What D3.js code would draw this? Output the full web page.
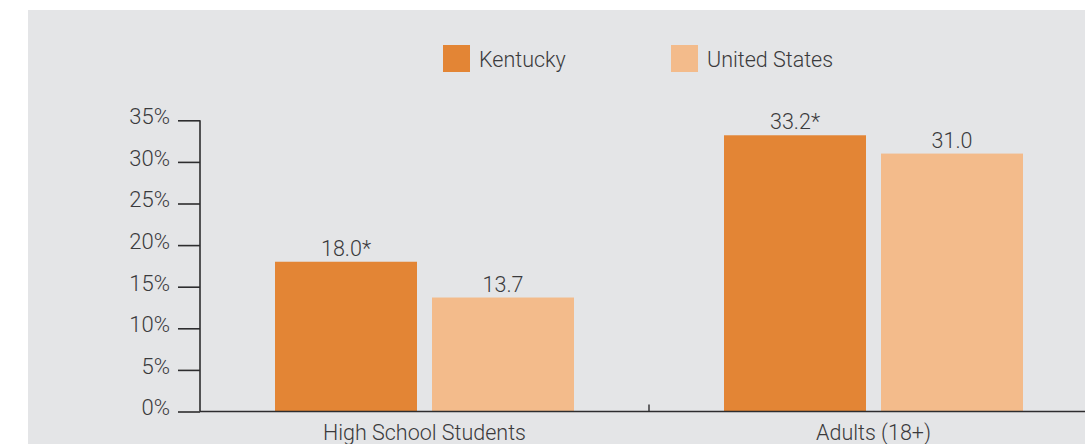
<!DOCTYPE html>
<html>
<head>
<meta charset="utf-8">
<script src="https://cdn.jsdelivr.net/npm/d3@7"></script>
<style>
  html, body { margin: 0; padding: 0; background: #ffffff; }
  svg { display: block; }
  text { font-family: "Roboto", "Liberation Sans", sans-serif; font-weight: 300; fill: #3a3a3c; }
</style>
</head>
<body>
<svg id="chart" width="1085" height="444"></svg>
<script>
// Tobacco use prevalence, Kentucky vs. United States
const categories = ["High School Students", "Adults (18+)"];
const seriesNames = ["Kentucky", "United States"];
const kentuckyValues = [18.0, 33.2];
const usValues = [13.7, 31.0];
const valueLabels = [["18.0*", "13.7"], ["33.2*", "31.0"]];
const yTicks = [0, 5, 10, 15, 20, 25, 30, 35];
const colors = ["#e38535", "#f3bb8b"];

const rows = categories.map((c, i) => ({
  category: c,
  values: [kentuckyValues[i], usValues[i]],
  labels: valueLabels[i]
}));

const FONT = 21.5;
const svg = d3.select("#chart");

// panel background
svg.append("rect")
  .attr("x", 28).attr("y", 10)
  .attr("width", 1085 - 28).attr("height", 444 - 10)
  .attr("fill", "#e4e5e7");

const plot = { left: 200, right: 1098, top: 120.3, bottom: 411.5 };

const y = d3.scaleLinear().domain([0, 35]).range([plot.bottom, plot.top]);
const x0 = d3.scaleBand().domain(categories).range([plot.left, plot.right]).padding(0);
const groupWidth = 299;
const x1 = d3.scaleBand().domain(seriesNames)
  .range([(x0.bandwidth() - groupWidth) / 2, (x0.bandwidth() + groupWidth) / 2])
  .paddingInner(15 / 157).paddingOuter(0);

// y axis
const yAxis = svg.append("g")
  .attr("transform", `translate(${plot.left},0)`)
  .call(d3.axisLeft(y).tickValues(yTicks).tickSize(22).tickPadding(8)
    .tickFormat(d => d + "%"));
yAxis.select(".domain").attr("stroke", "#2d2d2f").attr("stroke-width", 1.6)
  .attr("d", `M0,${plot.top}V${plot.bottom}`);
yAxis.selectAll(".tick line").attr("stroke", "#2d2d2f").attr("stroke-width", 1.6);
yAxis.selectAll(".tick text")
  .attr("font-size", FONT + 0.5).attr("fill", "#3a3a3c")
  .attr("dy", "0.15em")
  .style("font-family", "Roboto, 'Liberation Sans', sans-serif").style("font-weight", 300);

// bars
const groups = svg.append("g").selectAll("g")
  .data(rows).join("g")
  .attr("transform", d => `translate(${x0(d.category)},0)`);

groups.selectAll("rect")
  .data(d => d.values.map((v, i) => ({ key: seriesNames[i], value: v, i })))
  .join("rect")
  .attr("x", d => x1(d.key))
  .attr("y", d => y(d.value))
  .attr("width", x1.bandwidth())
  .attr("height", d => y(0) - y(d.value))
  .attr("fill", d => colors[d.i]);

groups.selectAll("text.val")
  .data(d => d.values.map((v, i) => ({ key: seriesNames[i], value: v, label: d.labels[i] })))
  .join("text")
  .attr("class", "val")
  .attr("x", d => x1(d.key) + x1.bandwidth() / 2)
  .attr("y", d => y(d.value) - 6)
  .attr("text-anchor", "middle")
  .attr("font-size", FONT)
  .text(d => d.label);

// x axis
const xAxis = svg.append("g")
  .attr("transform", `translate(0,${plot.bottom})`)
  .call(d3.axisBottom(x0).tickSize(0).tickPadding(13));
xAxis.select(".domain").attr("stroke", "#2d2d2f").attr("stroke-width", 1.6)
  .attr("d", `M${plot.left},0H${plot.right}`);
xAxis.selectAll(".tick text")
  .attr("font-size", FONT).attr("fill", "#3a3a3c")
  .attr("dy", "0.71em")
  .style("font-family", "Roboto, 'Liberation Sans', sans-serif").style("font-weight", 300);

// separator tick between categories
xAxis.append("line")
  .attr("x1", x0(categories[1])).attr("x2", x0(categories[1]))
  .attr("y1", 0).attr("y2", -7)
  .attr("stroke", "#2d2d2f").attr("stroke-width", 1.4);

// legend
const legendItems = [
  { name: seriesNames[0], x: 443, color: colors[0] },
  { name: seriesNames[1], x: 671, color: colors[1] }
];
const legend = svg.append("g").selectAll("g")
  .data(legendItems).join("g")
  .attr("transform", d => `translate(${d.x},45)`);
legend.append("rect")
  .attr("width", 27).attr("height", 27)
  .attr("fill", d => d.color);
legend.append("text")
  .attr("x", 36).attr("y", 22)
  .attr("font-size", FONT)
  .text(d => d.name);
</script>
</body>
</html>
